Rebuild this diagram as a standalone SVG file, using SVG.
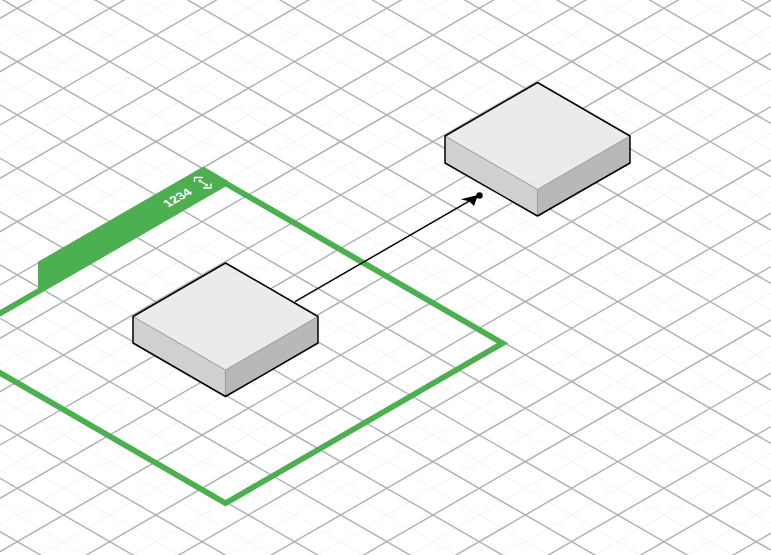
<svg xmlns="http://www.w3.org/2000/svg" width="771" height="555" viewBox="0 0 771 555">
<style>
.minor{fill:none;stroke:#f2f2f2;stroke-width:1}
.major{fill:none;stroke:#a9b0b8;stroke-width:1.4}
.top{fill:#ebebeb}.left{fill:#d0d0d0}.right{fill:#b8b8b8}
.inner{fill:none;stroke:#999999;stroke-width:1}
.edge{fill:none;stroke:#000000;stroke-width:1.5;stroke-linejoin:round}
.iso{fill:none;stroke:#ffffff;stroke-width:1.3}
</style>
<rect width="771" height="555" fill="#ffffff"/>
<g id="grid">
<path class="minor" d="M0 45l771-445.14M0 98.3l771-445.14M0 151.6l771-445.14M0 205l771-445.14M0 258.3l771-445.14M0 311.6l771-445.14M0 365l771-445.14M0 418.3l771-445.14M0 471.6l771-445.14M0 525l771-445.14M0 578.3l771-445.14M0 631.6l771-445.14M0 685l771-445.14M0 738.3l771-445.14M0 791.6l771-445.14M0 845l771-445.14M0 898.3l771-445.14M0 951.6l771-445.14M0-401.7l771 445.14M0-348.4l771 445.14M0-295l771 445.14M0-241.7l771 445.14M0-188.4l771 445.14M0-135l771 445.14M0-81.7l771 445.14M0-28.4l771 445.14M0 25l771 445.14M0 78.3l771 445.14M0 131.6l771 445.14M0 185l771 445.14M0 238.3l771 445.14M0 291.6l771 445.14M0 345l771 445.14M0 398.3l771 445.14M0 451.6l771 445.14M0 505l771 445.14"/>
<path class="major" d="M0 18.3l771-445.14M0 71.63l771-445.14M0 124.97l771-445.14M0 178.3l771-445.14M0 231.63l771-445.14M0 284.97l771-445.14M0 338.3l771-445.14M0 391.63l771-445.14M0 444.97l771-445.14M0 498.3l771-445.14M0 551.63l771-445.14M0 604.97l771-445.14M0 658.3l771-445.14M0 711.63l771-445.14M0 764.97l771-445.14M0 818.3l771-445.14M0 871.63l771-445.14M0 924.97l771-445.14M0 978.3l771-445.14M0-428.37l771 445.14M0-375.03l771 445.14M0-321.7l771 445.14M0-268.37l771 445.14M0-215.03l771 445.14M0-161.7l771 445.14M0-108.37l771 445.14M0-55.03l771 445.14M0-1.7l771 445.14M0 51.63l771 445.14M0 104.97l771 445.14M0 158.3l771 445.14M0 211.63l771 445.14M0 264.97l771 445.14M0 318.3l771 445.14M0 371.63l771 445.14M0 424.97l771 445.14M0 478.3l771 445.14M0 531.63l771 445.14"/>
</g>
<g id="zone">
<path d="M225.5 183.2L502.5 343.2L225.5 503.2L-51.5 343.2Z" fill="none" stroke="#4caf50" stroke-width="5.8"/>
<polygon points="38,261.8 203.5,166.5 228,181 225.5,184 38,291" fill="#4caf50"/>
<text transform="matrix(.866,-.5,.7,.62,180.5,200.5)" text-anchor="middle" font-family="'Liberation Sans',Arial,sans-serif" font-weight="700" font-size="13" fill="#ffffff">1234</text>
<g id="zone-icon" class="iso">
<path d="M194.5 182V177.5H203M211 183.5V188H203"/>
<path d="M199 180.5L207.5 185.5M200 182.3L199 180.5L201.2 180.2M206.5 183.7L207.5 185.5L205.3 185.8"/>
</g>
</g>
<g id="node-1">
<polygon class="top" points="225.5,263 318,316.5 225.5,370 133,316.5"/>
<polygon class="left" points="133,316.5 225.5,370 225.5,396.5 133,343"/>
<polygon class="right" points="318,316.5 225.5,370 225.5,396.5 318,343"/>
<path class="inner" d="M133 316.5L225.5 370L318 316.5M225.5 370V396.5"/>
<path class="edge" d="M225.5 263L318 316.5V343L225.5 396.5L133 343V316.5Z"/>
</g>
<g id="node-2">
<polygon class="top" points="537.5,82.5 630,136 537.5,189.5 445,136"/>
<polygon class="left" points="445,136 537.5,189.5 537.5,216 445,163"/>
<polygon class="right" points="630,136 537.5,189.5 537.5,216 630,163"/>
<path class="inner" d="M445 136L537.5 189.5L630 136M537.5 189.5V216"/>
<path class="edge" d="M537.5 82.5L630 136V163L537.5 216L445 163V136Z"/>
</g>
<g id="connectors">
<path d="M295 301.7L470 200.6" fill="none" stroke="#000000" stroke-width="1.5"/>
<polygon points="460.7,199.3 478,195 474,206 469.5,201.5" fill="#000000"/>
<circle cx="479.5" cy="195.5" r="3.2" fill="#000000"/>
</g>
</svg>
